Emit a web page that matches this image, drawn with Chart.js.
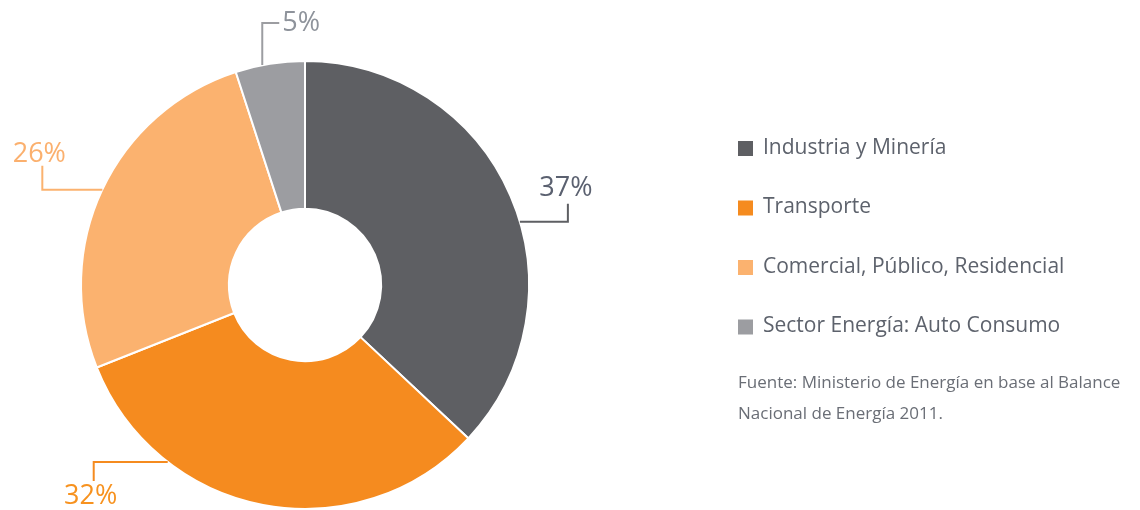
<!DOCTYPE html>
<html>
<head>
<meta charset="utf-8">
<script src="https://cdn.jsdelivr.net/npm/chart.js@4.4.0/dist/chart.umd.min.js"></script>
<style>
  html, body { margin: 0; padding: 0; background: #fff; }
  #wrap { position: relative; width: 1140px; height: 510px; }
</style>
</head>
<body>
<div id="wrap"><canvas id="myChart" width="1140" height="510"></canvas></div>
<script>
const sectores = ['Industria y Minería', 'Transporte', 'Comercial, Público, Residencial', 'Sector Energía: Auto Consumo'];
const consumo = [37, 32, 26, 5];
const etiquetas = ['37%', '32%', '26%', '5%'];
const colores = ['#5e5f63', '#f58b1f', '#fbb26f', '#9c9da1'];
const coloresTexto = ['#5b6170', '#f7921f', '#fbb06e', '#8e939b'];
const fuente = ['Fuente: Ministerio de Energía en base al Balance', 'Nacional de Energía 2011.'];

// leader lines: angle nudge from slice middle (deg), path moves, text alignment
const guias = [
  { nudge: 7, path: [[48, 0], [0, -18]], align: 'center', base: 'bottom', dx: -2, dy: -2 },
  { nudge: 27, path: [[-74, 0], [0, 19]], align: 'center', base: 'top', dx: -3, dy: 2 },
  { nudge: 0, path: [[-60, 0], [0, -24]], align: 'center', base: 'bottom', dx: -3, dy: 2 },
  { nudge: -2, path: [[0, -42], [17, 0]], align: 'left', base: 'middle', dx: 3, dy: 0 }
];

const etiquetasPlugin = {
  id: 'etiquetas',
  afterDraw(chart) {
    const c = chart.ctx;
    const arcs = chart.getDatasetMeta(0).data;
    c.save();
    arcs.forEach((arc, i) => {
      const g = guias[i];
      const mid = (arc.startAngle + arc.endAngle) / 2 + g.nudge * Math.PI / 180;
      let x = arc.x + Math.cos(mid) * arc.outerRadius;
      let y = arc.y + Math.sin(mid) * arc.outerRadius;
      c.beginPath();
      c.moveTo(x, y);
      g.path.forEach(p => { x += p[0]; y += p[1]; c.lineTo(x, y); });
      c.strokeStyle = colores[i];
      c.lineWidth = 2;
      c.stroke();
      c.fillStyle = coloresTexto[i];
      c.font = '27px "Open Sans", sans-serif';
      c.textAlign = g.align;
      c.textBaseline = g.base;
      c.fillText(etiquetas[i], x + g.dx, y + g.dy);
    });

    // legend
    c.textAlign = 'left';
    c.textBaseline = 'middle';
    sectores.forEach((s, i) => {
      const ly = 148 + i * 59.5;
      c.fillStyle = colores[i];
      c.fillRect(738, ly - 7, 15, 15);
      c.fillStyle = '#5d626c';
      c.font = '21px "Open Sans", sans-serif';
      c.fillText(s, 763, ly);
    });
    c.fillStyle = '#6a6e76';
    c.font = '17px "Open Sans", sans-serif';
    fuente.forEach((t, i) => c.fillText(t, 738, 383 + i * 31));
    c.restore();
  }
};

let ctx = document.querySelector('#myChart');

let grafico = new Chart(ctx, {
  type: 'doughnut',
  data: {
    labels: sectores,
    datasets: [{
      data: consumo,
      backgroundColor: colores,
      borderColor: '#ffffff',
      borderWidth: 2
    }]
  },
  options: {
    responsive: false,
    animation: false,
    cutout: '34%',
    layout: { padding: { left: 78, right: 608, top: 60, bottom: 0 } },
    plugins: {
      legend: { display: false },
      tooltip: { enabled: false }
    },
    events: []
  },
  plugins: [etiquetasPlugin]
});
</script>
</body>
</html>
